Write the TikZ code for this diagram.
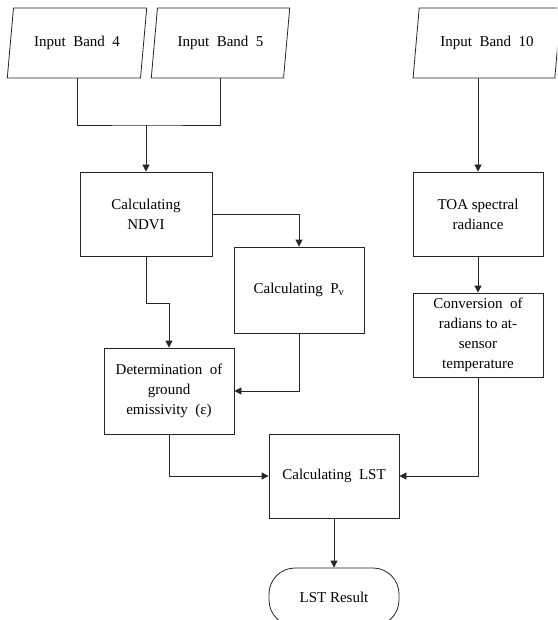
\documentclass[tikz,border=0pt]{standalone}
\usepackage{fontspec}
\setmainfont{Liberation Serif}
\usetikzlibrary{shapes.geometric,arrows.meta}
\begin{document}
\begin{tikzpicture}[x=1pt,y=-1pt,
  every node/.style={font=\fontsize{15}{20}\selectfont, align=center, inner sep=2pt},
  ln/.style={line width=0.8pt, draw=black!85},
  arr/.style={ln, -{Triangle[length=7pt,width=7pt]}},
  procbox/.style={ln, rectangle, minimum width=130pt, minimum height=84pt},
  inbox/.style={ln, trapezium, trapezium left angle=76, trapezium right angle=104,
    trapezium stretches=true, minimum height=70pt},
  termbox/.style={ln, rectangle, rounded corners=26pt, minimum width=130pt, minimum height=58pt}
]
\useasboundingbox (0,0) rectangle (557,620);
\clip (0,0) rectangle (557,620);
\fill[white] (0,0) rectangle (557,620);

\node[inbox, minimum width=140pt] (b4) at (77,43) {Input\enspace Band\enspace 4};
\node[inbox, minimum width=139pt] (b5) at (220.5,43) {Input\enspace Band\enspace 5};
\node[inbox, minimum width=148pt] (b10) at (487,43) {Input\enspace Band\enspace 10};

\node[procbox, minimum width=132pt] (ndvi) at (146,214) {Calculating\\NDVI};
\node[procbox, minimum height=86pt] (pv) at (299,290) {Calculating~ P\textsubscript{v}};
\node[procbox, minimum height=86pt] (det) at (169,391) {Determination~ of\\ground\\emissivity~ (ε)};
\node[procbox] (lst) at (334,476) {Calculating~ LST};
\node[procbox] (toa) at (478,214) {TOA spectral\\radiance};
\node[procbox] (conv) at (478,335) {Conversion~ of\\radians to at-\\sensor\\temperature};
\node[termbox] (res) at (334,597) {LST Result};

\coordinate (j) at (146,125);
\coordinate (b10o) at (478,78);

\draw[ln] (b4.south) |- (j) -| (b5.south);
\draw[arr] (j) -- (ndvi.north);
\draw[arr] (ndvi.east) -| (pv.north);
\draw[arr] (ndvi.south) -- ++(0,47) -| (det.north);
\draw[arr] (pv.south) |- (det.east);
\draw[arr] (det.south) |- (lst.west);
\draw[arr] (b10o) -- (toa.north);
\draw[arr] (toa.south) -- (conv.north);
\draw[arr] (conv.south) |- (lst.east);
\draw[arr] (lst.south) -- (res.north);
\end{tikzpicture}
\end{document}
